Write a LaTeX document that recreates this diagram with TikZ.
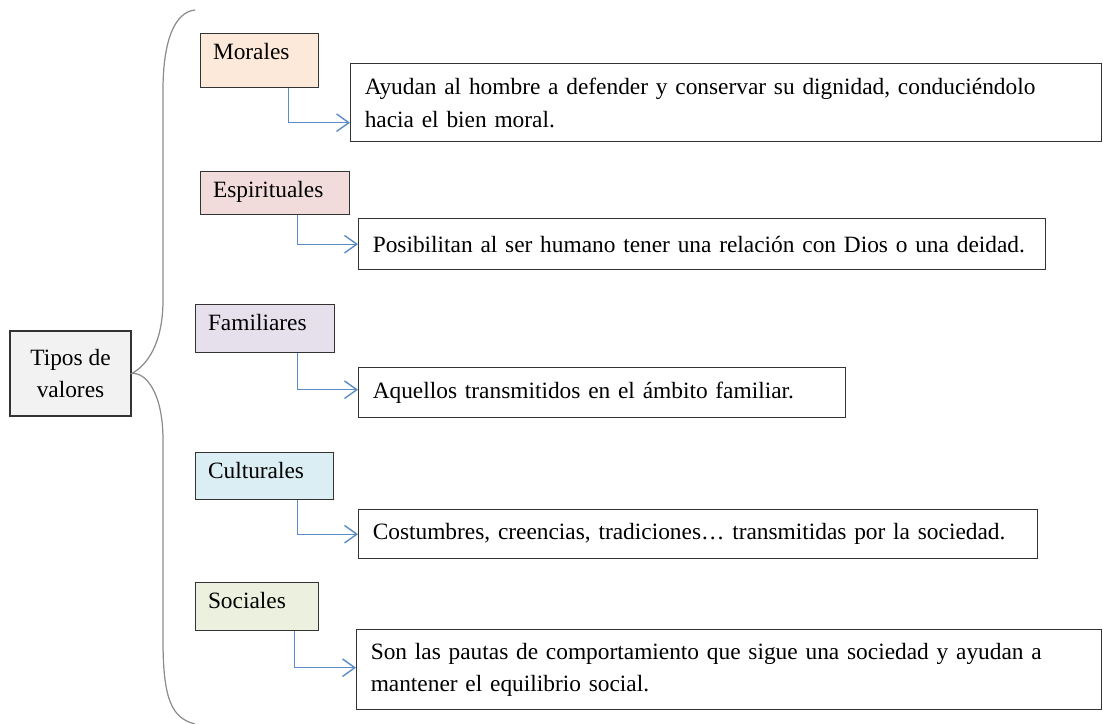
\documentclass[tikz,border=0pt]{standalone}
\usepackage{fontspec}
\setmainfont{Liberation Serif}
\usepackage{xcolor}
\usepackage{tikz}
\usetikzlibrary{calc, arrows.meta, positioning}
\definecolor{linkblue}{HTML}{5B8CC8}
\definecolor{moralfill}{HTML}{FDE9D9}
\definecolor{espfill}{HTML}{F2DCDB}
\definecolor{famfill}{HTML}{E5E0EC}
\definecolor{cultfill}{HTML}{DAEEF3}
\definecolor{socfill}{HTML}{EBF1DE}

\begin{document}
\begin{tikzpicture}[
        x=0.02cm, y=-0.02cm,
        box/.style = {draw=black!80, rectangle, line width=0.8pt, font=\fontsize{13.3}{18.5}\selectfont},
        rootbox/.style = {box, fill=black!5, minimum width=2.42cm, minimum height=1.70cm, align=center},
        typebox/.style = {box, anchor=north west, align=left, inner xsep=7pt, inner ysep=4pt, text height=10.8pt},
        descbox/.style = {box, anchor=north west, align=left, inner xsep=8pt, fill=white},
        brace/.style = {draw=black!45, line width=0.7pt},
        arrow/.style = {draw=linkblue, line width=0.8pt, -{Straight Barb[length=7pt, width=10pt]}}
    ]
        \useasboundingbox (0,0) rectangle (1103,724);

        % Root Node
        \node (tipos) [rootbox] at (70.5,373.5) {Tipos de\\valores};

        % Brace
        \draw [brace] (195,10) .. controls (175,12) and (163,40) .. (163,90) -- (163,300)
            .. controls (163,345) and (146,366) .. (tipos.east)
            .. controls (146,372) and (163,393) .. (163,440) -- (163,640)
            .. controls (163,700) and (172,718) .. (195,724);

        % Value Types
        \node (morales) [typebox, fill=moralfill, text width=1.87cm, text depth=11.9pt] at (200,33) {Morales};
        \node (espirit) [typebox, fill=espfill, text width=2.49cm, text depth=5.7pt] at (200,171) {Espirituales};
        \node (famil) [typebox, fill=famfill, text width=2.29cm, text depth=8.5pt] at (195,304) {Familiares};
        \node (cultur) [typebox, fill=cultfill, text width=2.27cm, text depth=7.9pt] at (195,452) {Culturales};
        \node (social) [typebox, fill=socfill, text width=1.97cm, text depth=8.5pt] at (195,582) {Sociales};

        % Descriptions
        \node (moralesdesc) [descbox, text width=14.46cm, minimum height=1.56cm] at (350,63) {Ayudan al hombre a defender y conservar su dignidad, conduciéndolo\\hacia el bien moral.};
        \node (espiritdesc) [descbox, text width=13.18cm, minimum height=1.02cm] at (358,218) {Posibilitan al ser humano tener una relación con Dios o una deidad.};
        \node (famildesc) [descbox, text width=9.18cm, minimum height=1.0cm] at (358,367) {Aquellos transmitidos en el ámbito familiar.};
        \node (culturdesc) [descbox, text width=13.02cm, minimum height=0.98cm] at (358,509) {Costumbres, creencias, tradiciones… transmitidas por la sociedad.};
        \node (socialdesc) [descbox, text width=14.34cm, minimum height=1.6cm] at (356,629) {Son las pautas de comportamiento que sigue una sociedad y ayudan a\\mantener el equilibrio social.};

        % Connections
        \draw [arrow] ([xshift=0.58cm]morales.south) |- ([yshift=-0.4cm]moralesdesc.west);
        \draw [arrow] ([xshift=0.45cm]espirit.south) |- (espiritdesc.west);
        \draw [arrow] ([xshift=0.65cm]famil.south) |- ([yshift=0.06cm]famildesc.west);
        \draw [arrow] ([xshift=0.66cm]cultur.south) |- (culturdesc.west);
        \draw [arrow] ([xshift=0.75cm]social.south) |- ([yshift=0.04cm]socialdesc.west);

    \end{tikzpicture}
\end{document}
